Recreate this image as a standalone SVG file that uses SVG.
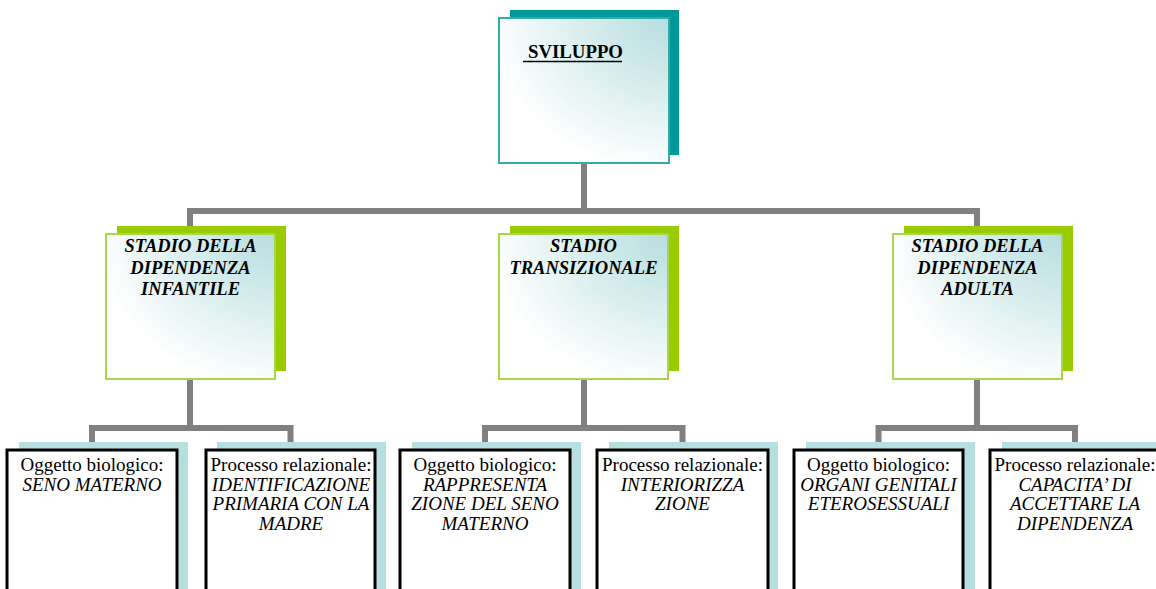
<svg xmlns="http://www.w3.org/2000/svg" width="1156" height="589" viewBox="0 0 1156 589">
<defs>
<radialGradient id="g" cx="1" cy="0" r="1.25">
<stop offset="0" stop-color="#b6dde0"/>
<stop offset="0.45" stop-color="#dcefef"/>
<stop offset="0.85" stop-color="#ffffff"/>
</radialGradient>
</defs>
<style>
.con{fill:none;stroke:#808080;stroke-width:6;stroke-linejoin:miter}
.tshadow{fill:#009999}
.tbox{fill:url(#g);stroke:#33aaaa;stroke-width:2}
.gshadow{fill:#99cc00}
.gbox{fill:url(#g);stroke:#a8d64a;stroke-width:2}
.bshadow{fill:#b7dfe0}
.bbox{fill:#ffffff;stroke:#000;stroke-width:3}
.mid{font-size:18.5px;font-weight:bold;font-style:italic;text-anchor:middle}
.bt{font-size:19px;text-anchor:middle}
.it{font-style:italic}
</style>
<g font-family="'Liberation Serif', Tinos, 'Times New Roman', 'DejaVu Serif', serif" fill="#000">
<g id="connectors">
<path class="con" d="M584,163 V211 M190,234 V211 H977 V234"/>
<path class="con" d="M190,379 V428 M92,450 V428 H290.5 V450"/>
<path class="con" d="M584,379 V428 M485,450 V428 H682.5 V450"/>
<path class="con" d="M977,379 V428 M878.5,450 V428 H1075 V450"/>
</g>
<g id="sviluppo">
<rect class="tshadow" x="510" y="10" width="169" height="145"/>
<rect class="tbox" x="499" y="18" width="170" height="145"/>
<text x="528" y="58" font-size="18.8" font-weight="bold">SVILUPPO</text>
<line x1="523" y1="61.5" x2="622" y2="61.5" stroke="#000" stroke-width="1.5"/>
</g>
<g id="stadio-infantile">
<rect class="gshadow" x="117" y="226" width="169" height="145"/>
<rect class="gbox" x="106" y="234" width="169" height="145"/>
<text class="mid" x="190.5" y="252">STADIO DELLA</text>
<text class="mid" x="190.5" y="273.5">DIPENDENZA</text>
<text class="mid" x="190.5" y="295">INFANTILE</text>
</g>
<g id="stadio-transizionale">
<rect class="gshadow" x="510" y="226" width="169" height="145"/>
<rect class="gbox" x="499" y="234" width="169" height="145"/>
<text class="mid" x="583.5" y="252">STADIO</text>
<text class="mid" x="583.5" y="273.5">TRANSIZIONALE</text>
</g>
<g id="stadio-adulta">
<rect class="gshadow" x="904" y="226" width="169" height="145"/>
<rect class="gbox" x="893" y="234" width="169" height="145"/>
<text class="mid" x="977.5" y="252">STADIO DELLA</text>
<text class="mid" x="977.5" y="273.5">DIPENDENZA</text>
<text class="mid" x="977.5" y="295">ADULTA</text>
</g>
<g id="b1">
<rect class="bshadow" x="19" y="442" width="169" height="160"/>
<rect class="bbox" x="7" y="450" width="170" height="160"/>
<text class="bt" x="92" y="471">Oggetto biologico:</text>
<text class="bt it" x="92" y="490.5">SENO MATERNO</text>
</g>
<g id="b2">
<rect class="bshadow" x="217" y="442" width="169" height="160"/>
<rect class="bbox" x="206" y="450" width="169" height="160"/>
<text class="bt" x="291" y="471">Processo relazionale:</text>
<text class="bt it" x="291" y="490.5">IDENTIFICAZIONE</text>
<text class="bt it" x="291" y="510">PRIMARIA CON LA</text>
<text class="bt it" x="291" y="529.5">MADRE</text>
</g>
<g id="b3">
<rect class="bshadow" x="412" y="442" width="169" height="160"/>
<rect class="bbox" x="400" y="450" width="170" height="160"/>
<text class="bt" x="485" y="471">Oggetto biologico:</text>
<text class="bt it" x="485" y="490.5">RAPPRESENTA</text>
<text class="bt it" x="485" y="510">ZIONE DEL SENO</text>
<text class="bt it" x="485" y="529.5">MATERNO</text>
</g>
<g id="b4">
<rect class="bshadow" x="609" y="442" width="169" height="160"/>
<rect class="bbox" x="597" y="450" width="171" height="160"/>
<text class="bt" x="682.5" y="471">Processo relazionale:</text>
<text class="bt it" x="682.5" y="490.5">INTERIORIZZA</text>
<text class="bt it" x="682.5" y="510">ZIONE</text>
</g>
<g id="b5">
<rect class="bshadow" x="806" y="442" width="169" height="160"/>
<rect class="bbox" x="794" y="450" width="169" height="160"/>
<text class="bt" x="878.5" y="471">Oggetto biologico:</text>
<text class="bt it" x="878.5" y="490.5">ORGANI GENITALI</text>
<text class="bt it" x="878.5" y="510">ETEROSESSUALI</text>
</g>
<g id="b6">
<rect class="bshadow" x="1002" y="442" width="169" height="160"/>
<rect class="bbox" x="990" y="450" width="170" height="160"/>
<text class="bt" x="1075" y="471">Processo relazionale:</text>
<text class="bt it" x="1075" y="490.5">CAPACITA’ DI</text>
<text class="bt it" x="1075" y="510">ACCETTARE LA</text>
<text class="bt it" x="1075" y="529.5">DIPENDENZA</text>
</g>
</g>
</svg>
